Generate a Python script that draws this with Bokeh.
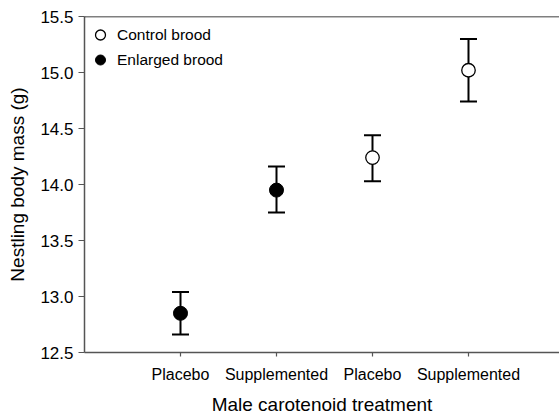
from bokeh.plotting import figure
from bokeh.models import (Range1d, FixedTicker, Span, Legend, LegendItem,
                          ColumnDataSource, NumeralTickFormatter)
from bokeh.embed import file_html
from bokeh.resources import INLINE

# Data
x_pos = [1, 2, 3, 4]
tick_labels = ["Placebo", "Supplemented", "Placebo", "Supplemented"]
groups = ["Enlarged brood", "Enlarged brood", "Control brood", "Control brood"]
means = [12.85, 13.95, 14.24, 15.02]
upper = [13.04, 14.16, 14.44, 15.30]
lower = [12.66, 13.75, 14.03, 14.74]
y_ticks = [12.5, 13.0, 13.5, 14.0, 14.5, 15.0, 15.5]

FONT = "Liberation Sans"

p = figure(width=559, height=417, output_backend="svg", toolbar_location=None,
           x_range=Range1d(0, 4.948), y_range=Range1d(12.5, 15.5),
           min_border_left=84, min_border_right=0, min_border_top=16, min_border_bottom=64)
p.outline_line_color = None
p.grid.visible = False
p.background_fill_color = "white"
p.border_fill_color = "white"


def subset(name):
    idx = [i for i, g in enumerate(groups) if g == name]
    return ColumnDataSource(dict(x=[x_pos[i] for i in idx], m=[means[i] for i in idx],
                                 u=[upper[i] for i in idx], l=[lower[i] for i in idx]))


enl = subset("Enlarged brood")
ctl = subset("Control brood")

for src in (enl, ctl):
    p.segment(x0="x", y0="l", x1="x", y1="u", source=src, line_color="black", line_width=2)
    p.scatter(x="x", y="u", source=src, marker="dash", size=17, line_color="black", line_width=2)
    p.scatter(x="x", y="l", source=src, marker="dash", size=17, line_color="black", line_width=2)

r_ctl = p.scatter(x="x", y="m", source=ctl, marker="circle", size=13.5,
                  fill_color="white", line_color="black", line_width=1.3)
r_enl = p.scatter(x="x", y="m", source=enl, marker="circle", size=14,
                  fill_color="black", line_color="black", line_width=1)

# top border line
p.add_layout(Span(location=15.5, dimension="width", line_color="black", line_width=1.5))

legend = Legend(items=[LegendItem(label="Control brood", renderers=[r_ctl]),
                       LegendItem(label="Enlarged brood", renderers=[r_enl])],
                location=(2, 280), margin=0, padding=0, spacing=0,
                glyph_width=28, glyph_height=25, label_height=25, label_standoff=3,
                label_text_font=FONT, label_text_font_size="15.5px",
                label_text_color="black",
                border_line_color=None, background_fill_alpha=0)
p.add_layout(legend)

# axes
p.xaxis.ticker = FixedTicker(ticks=x_pos)
p.xaxis.major_label_overrides = {x: lab for x, lab in zip(x_pos, tick_labels)}
p.yaxis.ticker = FixedTicker(ticks=y_ticks)
p.yaxis.formatter = NumeralTickFormatter(format="0.0")

for ax in (p.xaxis[0], p.yaxis[0]):
    ax.axis_line_color = "#555555"
    ax.axis_line_width = 1.5
    ax.major_tick_line_color = "#555555"
    ax.major_tick_line_width = 1.2
    ax.minor_tick_line_color = None
    ax.major_tick_in = 0
    ax.major_label_text_font = FONT
    ax.major_label_text_color = "black"
    ax.axis_label_text_font = FONT
    ax.axis_label_text_font_size = "19px"
    ax.axis_label_text_font_style = "normal"
    ax.axis_label_text_color = "black"

p.xaxis.major_label_text_font_size = "16px"
p.yaxis.major_label_text_font_size = "17px"

p.xaxis.major_tick_out = 4
p.xaxis.major_label_standoff = 9
p.xaxis.axis_label = "Male carotenoid treatment"
p.xaxis.axis_label_standoff = 8

p.yaxis.major_tick_out = 6
p.yaxis.major_label_standoff = 5
p.yaxis.axis_label = "Nestling body mass (g)"
p.yaxis.axis_label_standoff = 9

open("out.html", "w").write(file_html(p, INLINE))
